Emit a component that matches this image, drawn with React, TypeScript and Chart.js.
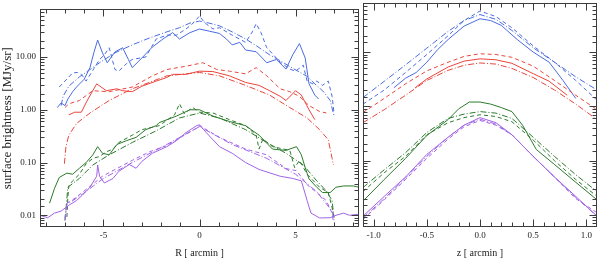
import React, { useEffect, useRef } from 'react';
import { Chart, registerables } from 'chart.js';
Chart.register(...registerables);

const BLUE = '#4a6be0';
const RED = '#e8453c';
const GREEN = '#2c7a2c';
const PURPLE = '#a064e6';

// ---------- Left panel: profiles along R [arcmin] ----------
const blueSolidR: number[][] = [[-7.4,1.1],[-7.2,1.35],[-7.0,1.2],[-6.85,1.6],[-6.6,2.2],[-6.4,2.7],[-6.0,3.8],[-5.7,6.3],[-5.5,12],[-5.3,21],[-5.05,12],[-4.8,7.8],[-4.4,12.5],[-4.0,15],[-3.7,9],[-3.5,6.3],[-3.0,9.6],[-2.45,15.5],[-1.9,22],[-1.4,29],[-1.04,22],[-0.5,29],[0,34],[0.5,31],[1.04,28],[1.4,22],[1.7,17],[2.1,19],[2.4,13.6],[2.95,12.6],[3.5,7.8],[4.0,9],[4.5,5.9],[4.85,11],[5.2,18],[5.5,9.6],[5.7,3.1],[6.0,1.9],[6.2,1.6]];
const blueDashR: number[][] = [[-7.3,2.7],[-7.0,3.5],[-6.6,5],[-6.35,5.1],[-6.1,4.5],[-5.9,3.5],[-5.5,6],[-5.2,9],[-4.95,11],[-4.7,15],[-4.4,5.8],[-4.2,5.4],[-3.8,7.5],[-3.5,9],[-2.8,10],[-2.25,22],[-1.7,26],[-1.2,26],[-0.7,34],[-0.3,45],[0,60],[0.26,45],[0.7,34],[1.04,36],[1.7,26],[2.4,19],[2.75,30],[2.95,43],[3.2,29],[3.5,15],[4.2,8],[4.7,5.9],[5.0,5.4],[5.4,7],[5.6,3.5],[5.9,3.1],[6.1,3.5],[6.4,2.9],[6.7,3.5],[6.9,1.8],[7.0,0.87]];
const blueDotDashR: number[][] = [[-7.2,1.2],[-7.1,1.8],[-6.8,2.8],[-6.25,4.2],[-5.2,7.8],[-4.4,12],[-3.5,17],[-2.6,23],[-1.7,30],[-1.04,36],[-0.5,44],[0,48],[0.5,44],[1.04,39],[1.7,30],[2.4,22],[3.0,16],[3.65,11],[4.2,8.5],[4.7,6.6],[5.2,5.2],[5.6,4.3],[6.0,3.1],[6.25,2.6],[6.5,2.1],[6.8,1.5],[7.0,0.77]];

const redSolidR: number[][] = [[-6.8,0.8],[-6.5,0.9],[-6.15,0.9],[-5.8,1.6],[-5.35,3.1],[-4.85,2.3],[-4.3,2.5],[-4.0,2.3],[-3.5,2.2],[-3.0,2.8],[-2.25,3.5],[-1.7,4.1],[-1.4,4.7],[-0.7,4.7],[0,5.4],[0.7,5.3],[1.56,4.4],[2.4,3.3],[3.1,2.9],[3.65,2.3],[4.2,1.8],[4.5,1.5],[5.0,2.3],[5.3,1.9],[5.7,1.0],[6.0,0.65]];
const redDashR: number[][] = [[-7.0,1.1],[-6.8,1.3],[-6.25,1.5],[-5.55,2.3],[-4.7,2.2],[-3.5,2.7],[-2.45,4.4],[-1.7,5.8],[-0.7,6.7],[0.17,7.8],[0.9,5.8],[1.56,5.4],[2.4,4.8],[2.95,6.3],[3.5,4.4],[4.2,2.5],[4.7,2.2],[5.2,1.8],[5.7,1.2],[6.25,0.93],[6.6,0.87]];
const redDotDashR: number[][] = [[-7.03,0.095],[-6.95,0.2],[-6.8,0.33],[-6.4,0.55],[-5.7,0.87],[-4.7,1.5],[-3.5,2.5],[-1.7,4.4],[0,5.1],[1.04,4.4],[2.4,2.9],[3.65,1.9],[4.7,1.1],[5.6,0.7],[6.25,0.42],[6.7,0.27],[6.9,0.12],[6.97,0.09]];

const greenSolidR: number[][] = [[-7.8,0.017],[-7.55,0.032],[-7.3,0.052],[-6.9,0.063],[-6.6,0.06],[-6.25,0.078],[-5.9,0.1],[-5.55,0.14],[-5.3,0.2],[-5.05,0.15],[-4.7,0.14],[-4.3,0.22],[-3.8,0.26],[-3.3,0.3],[-2.8,0.42],[-2.25,0.5],[-2.1,0.57],[-1.2,0.76],[-0.5,1.0],[0,1.0],[0.7,0.76],[1.56,0.6],[2.4,0.5],[3.1,0.33],[3.8,0.18],[4.5,0.17],[5.05,0.2],[5.3,0.14],[5.5,0.08],[5.7,0.049],[6.1,0.034],[6.4,0.027],[6.8,0.027],[7.1,0.034],[7.5,0.036],[8.0,0.036],[8.3,0.034]];
const greenDashR: number[][] = [[-6.9,0.0093],[-6.85,0.022],[-6.8,0.036],[-6.6,0.045],[-6.25,0.06],[-5.9,0.095],[-5.55,0.12],[-5.2,0.13],[-4.85,0.16],[-4.5,0.18],[-4.2,0.24],[-3.5,0.33],[-3.0,0.42],[-2.1,0.5],[-1.3,0.8],[-1.04,1.3],[-0.8,0.85],[-0.35,1.1],[0,0.9],[0.7,0.87],[1.56,0.65],[2.4,0.5],[2.95,0.33],[3.1,0.18],[3.3,0.28],[3.8,0.2],[4.7,0.17],[4.95,0.08],[5.2,0.11],[5.6,0.06],[6.25,0.034],[6.7,0.027],[6.9,0.014],[7.0,0.009]];
const greenDotDashR: number[][] = [[-7.0,0.008],[-6.85,0.034],[-6.25,0.05],[-5.55,0.09],[-4.7,0.14],[-3.5,0.24],[-2.25,0.4],[-1.04,0.7],[0,0.87],[1.04,0.7],[2.4,0.42],[3.5,0.24],[4.5,0.15],[5.4,0.09],[6.1,0.045],[6.6,0.029],[6.9,0.019],[7.0,0.009]];

const purpleSolidR: number[][] = [[-8.3,0.01],[-7.9,0.009],[-7.55,0.011],[-7.2,0.012],[-6.8,0.0155],[-6.4,0.019],[-6.1,0.024],[-5.7,0.034],[-5.35,0.055],[-5.3,0.09],[-5.2,0.055],[-4.95,0.041],[-4.5,0.05],[-4.2,0.068],[-3.65,0.092],[-3.3,0.078],[-3.0,0.105],[-2.45,0.15],[-1.7,0.2],[-1.2,0.26],[-0.7,0.37],[-0.15,0.5],[0,0.52],[0.35,0.37],[1.04,0.2],[1.7,0.15],[2.4,0.1],[3.1,0.074],[4.2,0.055],[4.85,0.05],[5.3,0.045],[5.6,0.019],[5.8,0.011],[6.25,0.0089],[6.8,0.009],[7.1,0.01],[7.5,0.011],[7.8,0.01],[8.3,0.0105]];
const purpleDashR: number[][] = [[-7.0,0.009],[-6.9,0.017],[-6.65,0.019],[-6.1,0.027],[-5.55,0.039],[-5.05,0.055],[-4.3,0.077],[-3.5,0.11],[-2.6,0.16],[-1.7,0.21],[-0.85,0.32],[-0.15,0.45],[0,0.5],[1.04,0.3],[2.4,0.18],[3.5,0.14],[4.5,0.077],[5.05,0.07],[5.6,0.038],[6.1,0.027],[6.6,0.019],[6.9,0.011],[6.95,0.008]];
const purpleDotDashR: number[][] = [[-7.0,0.008],[-6.9,0.016],[-6.1,0.025],[-5.0,0.05],[-3.5,0.1],[-1.7,0.22],[0,0.48],[1.7,0.22],[3.5,0.12],[5.0,0.06],[6.1,0.028],[6.9,0.012],[7.0,0.008]];

// ---------- Right panel: profiles along z [arcmin] ----------
const zGrid = [-1.1,-0.9,-0.7,-0.5,-0.3,-0.15,0,0.15,0.3,0.5,0.7,0.9,1.1];
const blueDashZ = [1.1,2.0,4.2,9,20,38,57,45,28,13,6.5,3.0,1.3];
const blueDotDashZ = [1.45,2.9,5.8,11.8,24,38,49,40,25,12,6.5,3.5,2.0];
const redDashZ = [0.77,1.4,2.6,4.5,6.5,8.3,9.3,9.0,8.0,5.5,3.0,1.6,0.87];
const redDotDashZ = [0.5,0.87,1.6,3.0,4.6,5.7,6.3,6.0,5.0,3.4,2.0,1.1,0.57];
const greenDashZ = [0.027,0.06,0.12,0.3,0.5,0.62,0.7,0.65,0.52,0.24,0.1,0.045,0.022];
const greenDotDashZ = [0.032,0.068,0.14,0.33,0.6,0.72,0.8,0.75,0.6,0.27,0.12,0.055,0.027];
const purpleSolidZ = [0.0095,0.022,0.05,0.13,0.27,0.45,0.62,0.5,0.3,0.12,0.05,0.022,0.0095];
const purpleDashZ = [0.0083,0.019,0.045,0.11,0.25,0.42,0.55,0.45,0.3,0.12,0.05,0.02,0.011];
const purpleDotDashZ = [0.0088,0.02,0.048,0.12,0.27,0.45,0.58,0.47,0.3,0.12,0.05,0.021,0.0095];
const blueSolidZx = [-0.81,-0.7,-0.6,-0.5,-0.4,-0.3,-0.15,0,0.1,0.2,0.35,0.5,0.65,0.78,0.9];
const blueSolidZ = [2.2,3.3,4.2,6.5,11,17,30,41,38,31,17,10,6.5,3.0,1.4];
const redSolidZx = [-0.61,-0.5,-0.3,-0.15,0,0.15,0.3,0.5,0.65,0.82];
const redSolidZ = [2.2,3.2,5.3,6.8,7.5,7.2,6.2,4.0,2.9,1.6];
const greenSolidZx = [-1.1,-0.9,-0.7,-0.5,-0.3,-0.2,-0.1,0,0.1,0.2,0.3,0.4,0.53,0.7,0.9,1.1];
const greenSolidZ = [0.018,0.045,0.11,0.29,0.57,0.9,1.2,1.2,1.1,0.95,0.8,0.45,0.16,0.085,0.04,0.019];

const DASH = [4, 3];
const DOTDASH = [6, 2, 1, 2];

const pts = (pairs: number[][]) => pairs.map(([x, y]) => ({ x, y }));
const zip = (xs: number[], ys: number[]) => xs.map((x, i) => ({ x, y: ys[i] }));
const ds = (data: any[], color: string, dash: number[]) => ({
  data, borderColor: color, borderWidth: 1, borderDash: dash, pointRadius: 0,
  tension: 0, fill: false, spanGaps: true,
});

const SERIF = '"Liberation Serif", "DejaVu Serif", serif';

const framePlugin = {
  id: 'frame',
  afterDatasetsDraw(chart: any) {
    const { ctx, chartArea: a, scales } = chart;
    const xs = scales.x, ys = scales.y;
    const L = Math.round(a.left) + 0.5, R = Math.round(a.right) - 0.5;
    const T = Math.round(a.top) + 0.5, B = Math.round(a.bottom) - 0.5;
    ctx.save();
    ctx.strokeStyle = '#3c3c3c';
    ctx.lineWidth = 1;
    ctx.strokeRect(L, T, R - L, B - T);
    ctx.beginPath();
    xs.ticks.forEach((t: any) => {
      const px = Math.round(xs.getPixelForValue(t.value)) + 0.5;
      if (px < L || px > R) return;
      const len = t.label ? 7 : 4;
      ctx.moveTo(px, B); ctx.lineTo(px, B - len);
      ctx.moveTo(px, T); ctx.lineTo(px, T + len);
    });
    ys.ticks.forEach((t: any) => {
      const py = Math.round(ys.getPixelForValue(t.value)) + 0.5;
      if (py < T || py > B) return;
      const lg = Math.log10(t.value);
      const len = Math.abs(lg - Math.round(lg)) < 1e-6 ? 7 : 4;
      ctx.moveTo(L, py); ctx.lineTo(L + len, py);
      ctx.moveTo(R, py); ctx.lineTo(R - len, py);
    });
    ctx.stroke();
    ctx.restore();
  },
};

const yScale = (showLabels: boolean, width: number) => ({
  type: 'logarithmic' as const,
  min: 0.006,
  max: 80,
  grid: { display: false, drawTicks: false },
  border: { display: false },
  ticks: {
    display: showLabels,
    autoSkip: false,
    padding: 4,
    color: '#222',
    font: { family: SERIF, size: 9 },
    callback: (v: any) => {
      const lg = Math.log10(Number(v));
      return Math.abs(lg - Math.round(lg)) < 1e-6 ? Number(v).toFixed(2) : '';
    },
  },
  title: {
    display: showLabels,
    text: 'surface brightness [MJy/sr]',
    color: '#222',
    font: { family: SERIF, size: 13, lineHeight: 1.2 },
    padding: { top: 0, bottom: 0 },
  },
  afterFit: (s: any) => { s.width = width; },
});

const xScale = (min: number, max: number, step: number, major: number, digits: number, title: string) => ({
  type: 'linear' as const,
  min, max,
  grid: { display: false, drawTicks: false },
  border: { display: false },
  ticks: {
    stepSize: step,
    includeBounds: false,
    autoSkip: false,
    maxRotation: 0,
    padding: 3,
    color: '#222',
    font: { family: SERIF, size: 9 },
    callback: (v: any) => {
      const n = Number(v);
      const r = n / major;
      return Math.abs(r - Math.round(r)) < 1e-6 ? (Math.round(r) * major).toFixed(digits) : '';
    },
  },
  title: {
    display: true,
    text: title,
    color: '#222',
    font: { family: SERIF, size: 10, lineHeight: 1 },
    padding: { top: 0, bottom: 0 },
  },
  afterFit: (s: any) => { s.height = 31; },
});

function useChart(ref: React.RefObject<HTMLCanvasElement>, build: () => any) {
  useEffect(() => {
    if (!ref.current) return;
    const chart = new Chart(ref.current, build());
    return () => chart.destroy();
  }, []);
}

export default function App() {
  const leftRef = useRef<HTMLCanvasElement>(null);
  const rightRef = useRef<HTMLCanvasElement>(null);

  useChart(leftRef, () => ({
    type: 'line',
    data: {
      datasets: [
        ds(pts(purpleDotDashR), PURPLE, DOTDASH),
        ds(pts(purpleDashR), PURPLE, DASH),
        ds(pts(purpleSolidR), PURPLE, []),
        ds(pts(greenDotDashR), GREEN, DOTDASH),
        ds(pts(greenDashR), GREEN, DASH),
        ds(pts(greenSolidR), GREEN, []),
        ds(pts(redDotDashR), RED, DOTDASH),
        ds(pts(redDashR), RED, DASH),
        ds(pts(redSolidR), RED, []),
        ds(pts(blueDotDashR), BLUE, DOTDASH),
        ds(pts(blueDashR), BLUE, DASH),
        ds(pts(blueSolidR), BLUE, []),
      ],
    },
    options: {
      animation: false,
      responsive: true,
      maintainAspectRatio: false,
      layout: { padding: { top: 3, right: 1, bottom: 0, left: 0 } },
      plugins: { legend: { display: false }, tooltip: { enabled: false } },
      scales: {
        x: xScale(-8.3, 8.3, 1, 5, 0, 'R [ arcmin ]'),
        y: yScale(true, 40),
      },
    },
    plugins: [framePlugin],
  }));

  useChart(rightRef, () => ({
    type: 'line',
    data: {
      datasets: [
        ds(zip(zGrid, purpleDotDashZ), PURPLE, DOTDASH),
        ds(zip(zGrid, purpleDashZ), PURPLE, DASH),
        ds(zip(zGrid, purpleSolidZ), PURPLE, []),
        ds(zip(zGrid, greenDotDashZ), GREEN, DOTDASH),
        ds(zip(zGrid, greenDashZ), GREEN, DASH),
        ds(zip(greenSolidZx, greenSolidZ), GREEN, []),
        ds(zip(zGrid, redDotDashZ), RED, DOTDASH),
        ds(zip(zGrid, redDashZ), RED, DASH),
        ds(zip(redSolidZx, redSolidZ), RED, []),
        ds(zip(zGrid, blueDotDashZ), BLUE, DOTDASH),
        ds(zip(zGrid, blueDashZ), BLUE, DASH),
        ds(zip(blueSolidZx, blueSolidZ), BLUE, []),
      ],
    },
    options: {
      animation: false,
      responsive: true,
      maintainAspectRatio: false,
      layout: { padding: { top: 3, right: 2, bottom: 0, left: 0 } },
      plugins: { legend: { display: false }, tooltip: { enabled: false } },
      scales: {
        x: xScale(-1.1, 1.1, 0.1, 0.5, 1, 'z [ arcmin ]'),
        y: yScale(false, 2),
      },
    },
    plugins: [framePlugin],
  }));

  return (
    <div style={{ position: 'fixed', left: 0, top: 0, width: 600, height: 258, background: '#fff' }}>
      <div style={{ position: 'absolute', left: 0, top: 0, width: 360, height: 258 }}>
        <canvas ref={leftRef} />
      </div>
      <div style={{ position: 'absolute', left: 360, top: 0, width: 240, height: 258 }}>
        <canvas ref={rightRef} />
      </div>
    </div>
  );
}
